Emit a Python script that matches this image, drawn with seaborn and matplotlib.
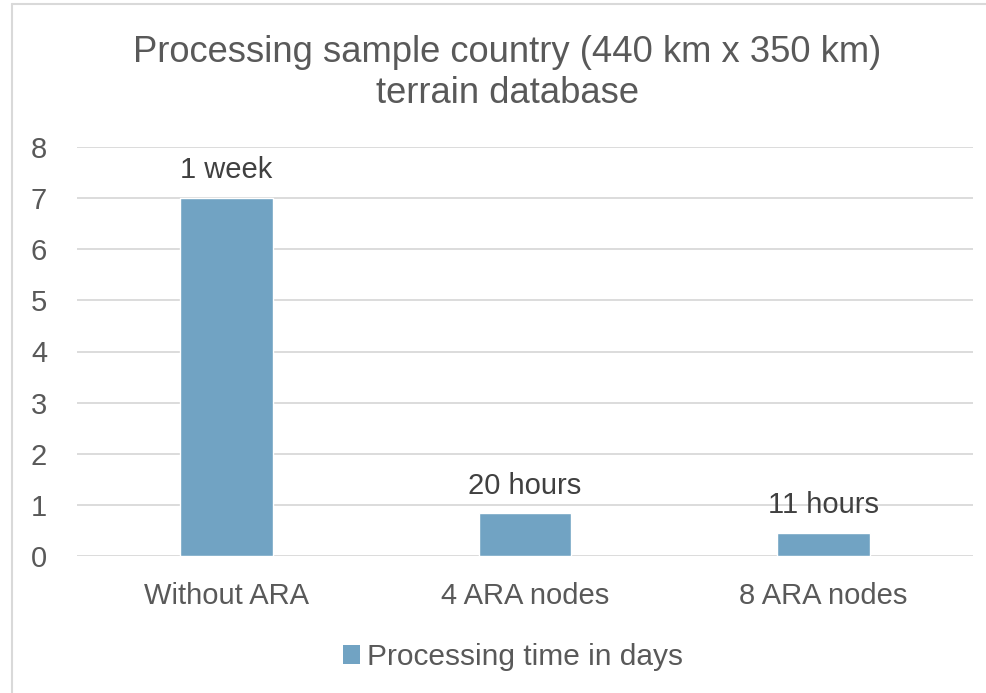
import matplotlib
matplotlib.use("Agg")
import matplotlib.pyplot as plt
import seaborn as sns
import pandas as pd
from matplotlib.lines import Line2D
from matplotlib.patches import Patch

categories = ["Without ARA", "4 ARA nodes", "8 ARA nodes"]
values = [7.0, 20 / 24, 11 / 24]
value_labels = ["1 week", "20 hours", "11 hours"]
series_name = "Processing time in days"
title = "Processing sample country (440 km x 350 km)\nterrain database"

sns.set_theme(style="white")
plt.rcParams['font.family'] = ['Liberation Sans', 'DejaVu Sans']

txt = "#595959"
bar_color = "#71A3C3"
grid_color = "#D9D9D9"

df = pd.DataFrame({"category": categories, "value": values})

fig = plt.figure(figsize=(9.87, 6.93), dpi=100)
ax = fig.add_axes([77 / 987, 1 - 556 / 693, (973 - 77) / 987, (556 - 147) / 693])

sns.barplot(data=df, x="category", y="value", color=bar_color, width=0.31,
            saturation=1, ax=ax, zorder=3)

ax.set_xlim(-0.5, 2.5)
ax.set_ylim(0, 8)
ax.set_yticks(range(0, 9))
ax.yaxis.grid(True, color=grid_color, linewidth=1.3, zorder=0)
ax.xaxis.grid(False)
for s in ax.spines.values():
    s.set_visible(False)
ax.tick_params(axis="both", length=0, labelsize=21, labelcolor=txt)
ax.tick_params(axis="y", pad=21.5)
ax.tick_params(axis="x", pad=19)
ax.set_xlabel("")
ax.set_ylabel("")

for i, (v, lab) in enumerate(zip(values, value_labels)):
    ax.annotate(lab, (i, v), xytext=(0, 10), textcoords="offset points",
                ha="center", va="bottom", fontsize=21, color="#404040")

fig.text(507 / 987, 1 - 73 / 693, title, ha="center", va="center",
         fontsize=26.2, color=txt, linespacing=1.2)

handles = [Patch(facecolor=bar_color, edgecolor='none', label=series_name)]
fig.legend(handles=handles, loc="center", bbox_to_anchor=(513 / 987, 1 - 657 / 693),
           frameon=False, fontsize=21.5, labelcolor=txt, handlelength=0.57,
           handleheight=0.57, handletextpad=0.25)

# outer chart border (top and left visible)
fig.add_artist(Line2D([12 / 987, 1], [1 - 4 / 693, 1 - 4 / 693], color=grid_color,
                      linewidth=1.5, transform=fig.transFigure))
fig.add_artist(Line2D([12 / 987, 12 / 987], [0, 1 - 4 / 693], color=grid_color,
                      linewidth=1.5, transform=fig.transFigure))

fig.savefig("out.png", dpi=100)
